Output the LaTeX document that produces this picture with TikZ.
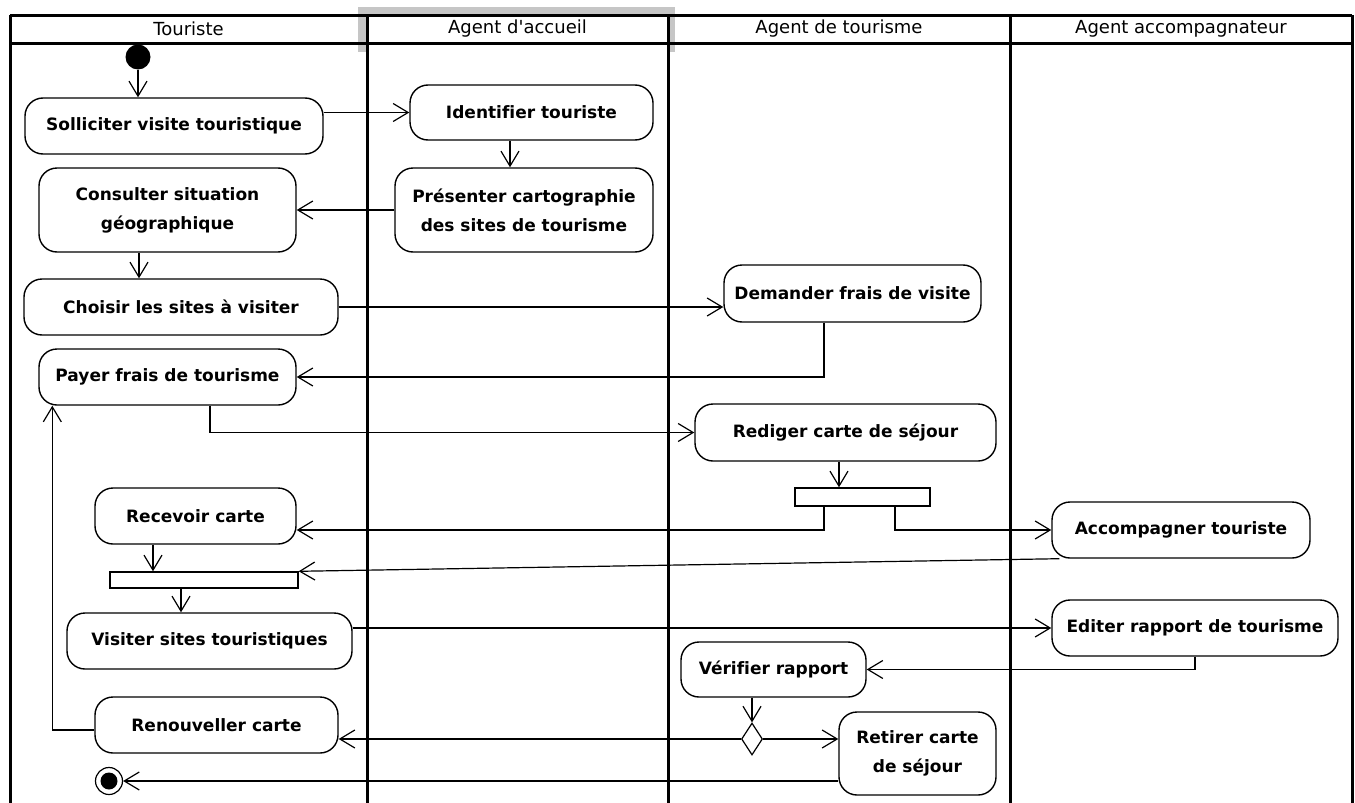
\documentclass[tikz,border=0pt]{standalone}
\usepackage{fontspec}
\newfontfamily\dv{DejaVu Sans}[Ligatures=NoCommon]
\usetikzlibrary{arrows.meta,shapes.geometric}
\newcommand\actfont{\dv\fontsize{17}{29}\selectfont\bfseries}
\newcommand\hdrfont{\dv\fontsize{18}{20}\selectfont}
\begin{document}
\begin{tikzpicture}[x=1pt,y=-1pt,
  act/.style={draw,line width=1.4pt,rounded corners=18pt,inner sep=0pt,align=center,font=\actfont},
  conn/.style={line width=1.2pt,-{Straight Barb[length=15pt,width=18pt]}},
  lane/.style={line width=3pt},
  bar/.style={draw,line width=1.4pt,fill=white,inner sep=0pt},
  hdr/.style={font=\hdrfont,inner sep=0pt}]
\useasboundingbox[fill=white] (0,0) rectangle (1355,803);
% grey selection frame
\fill[gray!45] (358,7) rectangle (675,15);
\fill[gray!45] (358,7) rectangle (367,52);
\fill[gray!45] (668,7) rectangle (675,52);
% swimlanes
\draw[lane] (10,15) -- (1352,15);
\draw[lane] (10,43) -- (1352,43);
\foreach \x in {10,367,668,1010,1352} \draw[lane] (\x,15) -- (\x,803);
\node[hdr] (h1) at (188.5,29) {Touriste};
\node[hdr] (h2) at (517.5,29) {Agent d'accueil};
\node[hdr] (h3) at (839,29) {Agent de tourisme};
\node[hdr] (h4) at (1181,29) {Agent accompagnateur};
% nodes
\node[circle,fill=black,minimum size=25pt,inner sep=0pt] (start) at (138,57) {};
\node[act,minimum width=298pt,minimum height=56pt] (sol) at (174,126) {Solliciter visite touristique};
\node[act,minimum width=243pt,minimum height=55pt] (ide) at (531.5,112.5) {Identifier touriste};
\node[act,minimum width=257pt,minimum height=84pt] (con) at (167.5,210) {Consulter situation\\géographique};
\node[act,minimum width=258pt,minimum height=84pt] (pre) at (524,210) {Présenter cartographie\\des sites de tourisme};
\node[act,minimum width=314pt,minimum height=56pt] (cho) at (181,307) {Choisir les sites à visiter};
\node[act,minimum width=257pt,minimum height=57pt] (dem) at (852.5,293.5) {Demander frais de visite};
\node[act,minimum width=257pt,minimum height=56pt] (pay) at (167.5,377) {Payer frais de tourisme};
\node[act,minimum width=301pt,minimum height=57pt] (red) at (845.5,432.5) {Rediger carte de séjour};
\node[bar,minimum width=135pt,minimum height=18pt] (fork) at (862.5,497) {};
\node[act,minimum width=201pt,minimum height=56pt] (rec) at (195.5,516) {Recevoir carte};
\node[act,minimum width=258pt,minimum height=56pt] (acc) at (1181,530) {Accompagner touriste};
\node[bar,minimum width=188pt,minimum height=16pt] (join) at (204,580) {};
\node[act,minimum width=285pt,minimum height=56pt] (vis) at (209.5,641) {Visiter sites touristiques};
\node[act,minimum width=286pt,minimum height=56pt] (edi) at (1195,628) {Editer rapport de tourisme};
\node[act,minimum width=185pt,minimum height=55pt] (ver) at (773.5,669.5) {Vérifier rapport};
\node[draw,diamond,line width=1.2pt,minimum width=21pt,minimum height=32pt,inner sep=0pt] (dia) at (752,739) {};
\node[act,minimum width=243pt,minimum height=56pt] (ren) at (216.5,725) {Renouveller carte};
\node[act,minimum width=157pt,minimum height=83pt] (ret) at (917.5,753.5) {Retirer carte\\de séjour};
\node[circle,draw,line width=1.2pt,minimum size=27pt,inner sep=0pt] (fin) at (109,781) {};
\fill (fin.center) circle (8.5pt);
% connectors
\draw[conn] (start) -- (start |- sol.north);
\draw[conn] (sol.east |- ide.west) -- (ide.west);
\draw[conn] ([xshift=-21.5pt]ide.south) -- ([xshift=-21.5pt]ide.south |- pre.north);
\draw[conn] (pre.west) -- (con.east);
\draw[conn] ([xshift=-28.5pt]con.south) -- ([xshift=-28.5pt]con.south |- cho.north);
\draw[conn] (cho.east) -- (cho.east -| dem.west);
\draw[conn] ([xshift=-28.5pt]dem.south) |- (pay.east);
\draw[conn] ([xshift=42.5pt]pay.south) |- (red.west);
\draw[conn] ([xshift=-6.5pt]red.south) -- ([xshift=-6.5pt]red.south |- fork.north);
\draw[conn] ([xshift=-38.5pt]fork.south) |- ([yshift=-14pt]rec.east);
\draw[conn] ([xshift=32.5pt]fork.south) |- (acc.west);
\draw[conn] ([xshift=-42.5pt]rec.south) -- ([xshift=-42.5pt]rec.south |- join.north);
\draw[conn] ([xshift=8pt]acc.south west) -- (join.north east);
\draw[conn] ([xshift=-23pt]join.south) -- ([xshift=-23pt]join.south |- vis.north);
\draw[conn] ([yshift=13pt]vis.east) -- ([yshift=13pt]vis.east -| edi.west);
\draw[conn] (edi.south) |- (ver.east);
\draw[conn] ([xshift=-21.5pt]ver.south) -- (dia.north);
\draw[conn] (dia.east) -- (dia.east -| ret.west);
\draw[conn] (dia.west) -- (dia.west -| ren.east);
\draw[conn] ([yshift=-5pt]ren.west) -| ([xshift=14pt]pay.south west);
\draw[conn] (ret.west |- fin.east) -- (fin.east);
\end{tikzpicture}
\end{document}
